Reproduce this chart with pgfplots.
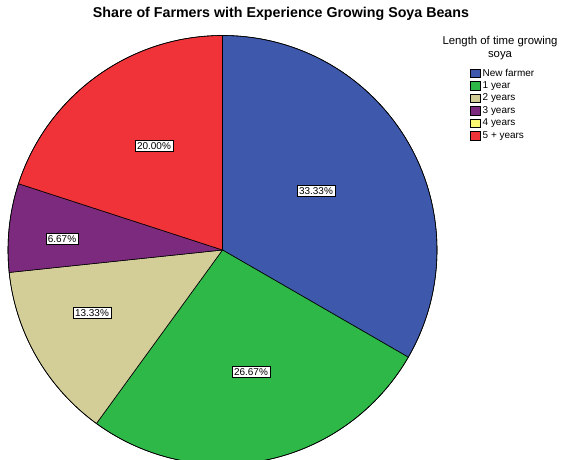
\documentclass[border=0pt]{standalone}
\usepackage{pgfplots}
\pgfplotsset{compat=1.18}
\usepackage{fontspec}
\setmainfont{Liberation Sans}
\definecolor{cA}{HTML}{3E58AC}
\definecolor{cB}{HTML}{2EB848}
\definecolor{cC}{HTML}{D3CE97}
\definecolor{cD}{HTML}{7C2A7E}
\definecolor{cE}{HTML}{FBF873}
\definecolor{cF}{HTML}{EF3338}
% shares (percent)
\def\vA{33.33}\def\vB{26.67}\def\vC{13.33}\def\vD{6.67}\def\vE{0.00}\def\vF{20.00}
\pgfmathsetmacro\aA{90}
\pgfmathsetmacro\aB{\aA-3.6*\vA}
\pgfmathsetmacro\aC{\aB-3.6*\vB}
\pgfmathsetmacro\aD{\aC-3.6*\vC}
\pgfmathsetmacro\aE{\aD-3.6*\vD}
\pgfmathsetmacro\aF{\aE-3.6*\vE}
\pgfmathsetmacro\aG{\aF-3.6*\vF}
\def\cx{222.5}\def\cy{210}\def\R{214.5bp}
\newcommand\slice[3]{%
  \filldraw[fill=#1, draw=black, line width=0.6bp] (axis cs:\cx,\cy) -- ([shift={(#2:\R)}]axis cs:\cx,\cy) arc[start angle=#2, end angle=#3, radius=\R] -- cycle;}
\newcommand\legitem[3]{%
  \filldraw[fill=#1, draw=black, line width=0.5bp] (axis cs:470.5,#2-4.3) rectangle (axis cs:480.5,#2+4.3);
  \node[anchor=west, inner sep=0pt, font=\fontsize{10}{11}\selectfont] at (axis cs:482.5,#2) {#3};}
\begin{document}
\begin{tikzpicture}
\begin{axis}[
  scale only axis, width=563bp, height=460bp,
  xmin=0, xmax=563, ymin=0, ymax=460,
  hide axis,
]
\path (axis cs:0,0) rectangle (axis cs:563,460);
\slice{cA}{\aA}{\aB}
\slice{cB}{\aB}{\aC}
\slice{cC}{\aC}{\aD}
\slice{cD}{\aD}{\aE}
\slice{cF}{\aF}{\aG}
\draw[black, line width=0.6bp] (axis cs:\cx,\cy) circle[radius=\R];
\tikzset{pl/.style={draw=black, fill=white, inner xsep=2bp, inner ysep=2.2bp, line width=0.6bp, font=\fontsize{10}{10}\selectfont}}
\node[pl] at (axis cs:316,269) {33.33\%};
\node[pl] at (axis cs:251,88) {26.67\%};
\node[pl] at (axis cs:92,147) {13.33\%};
\node[pl] at (axis cs:62,221) {6.67\%};
\node[pl] at (axis cs:154,314) {20.00\%};
\node[font=\fontsize{14.3}{16}\bfseries] at (axis cs:281,446) {Share of Farmers with Experience Growing Soya Beans};
\node[align=center, font=\fontsize{11.4}{12.5}\selectfont, inner sep=0pt] at (axis cs:500,412) {Length of time growing\\soya};
\legitem{cA}{386.7}{New farmer}
\legitem{cB}{374.2}{1 year}
\legitem{cC}{361.7}{2 years}
\legitem{cD}{349.2}{3 years}
\legitem{cE}{336.7}{4 years}
\legitem{cF}{324.2}{5 + years}
\end{axis}
\end{tikzpicture}
\end{document}
